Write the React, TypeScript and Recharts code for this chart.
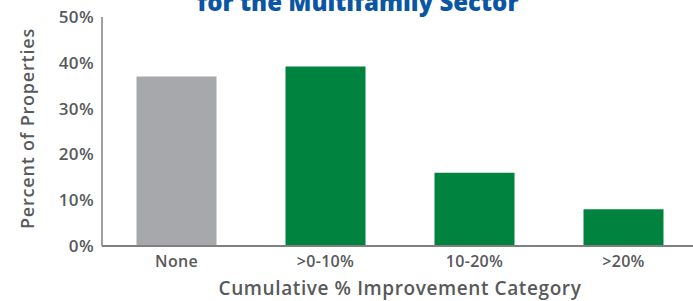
import React from 'react';
import { BarChart, Bar, XAxis, YAxis, Cell, Label } from 'recharts';

const categories = ['None', '>0-10%', '10-20%', '>20%'];
const percentValues = [37.0, 39.2, 16.0, 8.0];
const barColors = ['#a7a8ac', '#00833e', '#00833e', '#00833e'];
const yTicks = [0, 10, 20, 30, 40, 50];
const titleText = 'for the Multifamily Sector';
const xTitle = 'Cumulative % Improvement Category';
const yTitle = 'Percent of Properties';

const data = categories.map((c, i) => ({ category: c, value: percentValues[i] }));

const FONT = '"Open Sans", Lato, sans-serif';
const TEXT = '#58595b';

const YLabel = (props: any) => {
  const vb = props.viewBox;
  const cy = vb.y + vb.height / 2 - 3;
  const cx = 27;
  return (
    <text x={cx} y={cy} transform={`rotate(-90 ${cx} ${cy})`} textAnchor="middle" dominantBaseline="central"
      fill={TEXT} fontFamily={FONT} fontSize={18} fontWeight={600} letterSpacing={0.8}>{yTitle}</text>
  );
};

const XLabel = (props: any) => {
  const vb = props.viewBox;
  const cx = vb.x + vb.width / 2;
  return (
    <text x={cx} y={295} textAnchor="middle" fill={TEXT} fontFamily={FONT} fontSize={19} fontWeight={600} letterSpacing={0.6}>{xTitle}</text>
  );
};

export default function App() {
  return (
    <div style={{ position: 'absolute', left: 0, top: 0, width: 693, height: 301, overflow: 'hidden', background: '#fff' }}>
      <div style={{ position: 'absolute', left: 0, width: 716, top: -13, textAlign: 'center', fontFamily: FONT, fontWeight: 800, fontSize: 24, color: '#0b56a4', lineHeight: '30px' }}>
        {titleText}
      </div>
      <BarChart width={710} height={301} data={data} margin={{ top: 17, right: 12, bottom: 25, left: 0 }} barCategoryGap={34.5}>
        <XAxis dataKey="category" height={30} axisLine={{ stroke: '#808080', strokeWidth: 2 }} tickLine={false}
          tick={{ fill: TEXT, fontFamily: FONT, fontSize: 16, fontWeight: 600, letterSpacing: 0.3 }} tickMargin={4}>
          <Label content={<XLabel />} />
        </XAxis>
        <YAxis width={102} domain={[0, 50]} ticks={yTicks} tickFormatter={(v: number) => `${v}%`}
          axisLine={{ stroke: '#808080', strokeWidth: 1.5 }} tickLine={false}
          tick={{ fill: TEXT, fontFamily: FONT, fontSize: 17, fontWeight: 600, letterSpacing: 0.4 }}>
          <Label content={<YLabel />} />
        </YAxis>
        <Bar dataKey="value" isAnimationActive={false}>
          {data.map((d, i) => (
            <Cell key={d.category} fill={barColors[i]} />
          ))}
        </Bar>
      </BarChart>
    </div>
  );
}
